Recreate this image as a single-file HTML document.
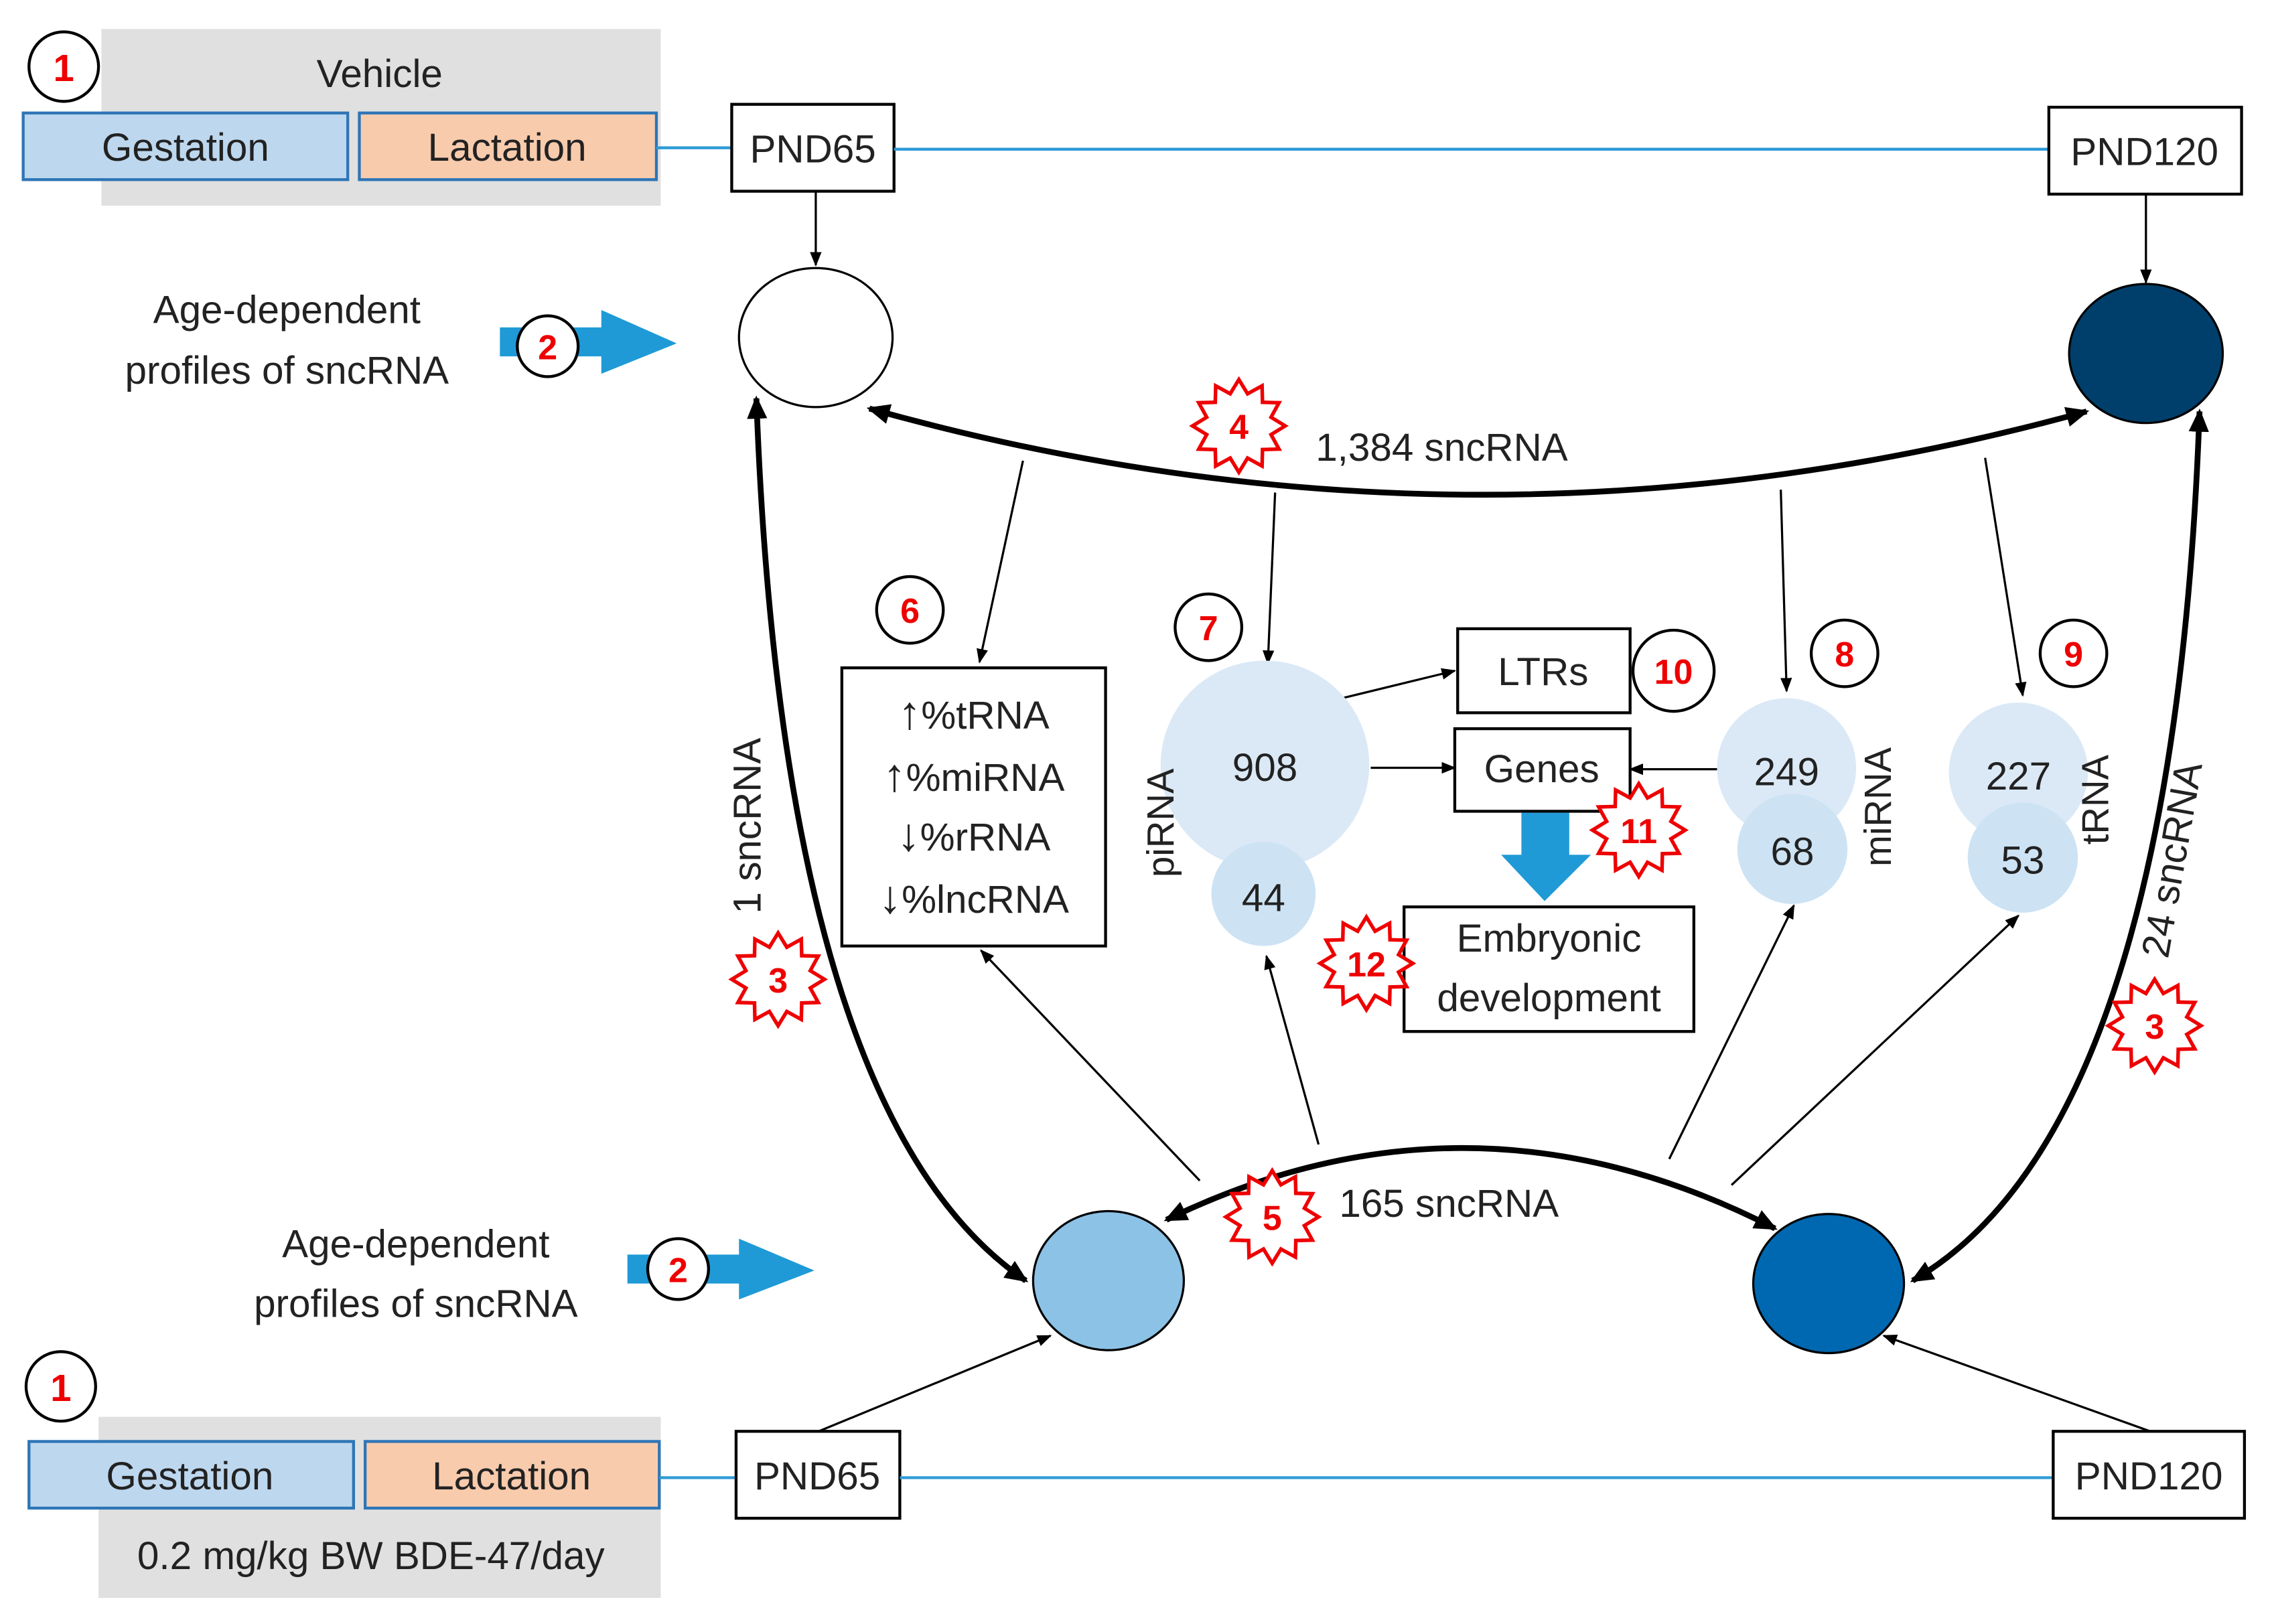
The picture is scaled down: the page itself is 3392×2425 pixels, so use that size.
<!DOCTYPE html>
<html><head><meta charset="utf-8"><style>
html,body{margin:0;padding:0;background:#fff;}
svg{display:block;}
text{font-family:"Liberation Sans",sans-serif;fill:#222;}
.n{fill:#e00;font-weight:bold;}
</style></head><body>
<svg width="3392" height="2425" viewBox="0 0 1568 1121" preserveAspectRatio="none" xmlns="http://www.w3.org/2000/svg">
<defs>
<marker id="a" markerWidth="10" markerHeight="10" refX="9" refY="5" orient="auto" markerUnits="userSpaceOnUse"><path d="M0,1 L10,5 L0,9 z" fill="#000"/></marker>
<marker id="b" markerWidth="16" markerHeight="14" refX="14" refY="7" orient="auto-start-reverse" markerUnits="userSpaceOnUse"><path d="M0,0 L16,7 L0,14 z" fill="#000"/></marker>
<polygon id="st" points="32,0 22.2,6 27.7,16 16.3,16.3 16,27.7 6,22.2 0,32 -6,22.2 -16,27.7 -16.3,16.3 -27.7,16 -22.2,6 -32,0 -22.2,-6 -27.7,-16 -16.3,-16.3 -16,-27.7 -6,-22.2 0,-32 6,-22.2 16,-27.7 16.3,-16.3 27.7,-16 22.2,-6" fill="#fff" stroke="#e00" stroke-width="2.5"/>
</defs>
<rect x="70" y="20" width="386" height="122" fill="#e0e0e0"/>
<text x="262" y="60" font-size="27" text-anchor="middle">Vehicle</text>
<rect x="16" y="78" width="224" height="46" fill="#bdd7ee" stroke="#2e75b6" stroke-width="2"/>
<text x="128" y="111" font-size="27" text-anchor="middle">Gestation</text>
<rect x="248" y="78" width="205" height="46" fill="#f8cbad" stroke="#2e75b6" stroke-width="2"/>
<text x="350" y="111" font-size="27" text-anchor="middle">Lactation</text>
<line x1="453" y1="102" x2="505" y2="102" stroke="#2e9ad6" stroke-width="2"/>
<rect x="505" y="72" width="112" height="60" fill="#fff" stroke="#000" stroke-width="2"/>
<text x="561" y="112" font-size="27" text-anchor="middle">PND65</text>
<line x1="617" y1="103" x2="1414" y2="103" stroke="#2e9ad6" stroke-width="2"/>
<rect x="1414" y="74" width="133" height="60" fill="#fff" stroke="#000" stroke-width="2"/>
<text x="1480" y="114" font-size="27" text-anchor="middle">PND120</text>
<circle cx="44" cy="46" r="24" fill="#fff" stroke="#000" stroke-width="2"/><text class="n" x="44" y="56" font-size="26" text-anchor="middle">1</text>
<line x1="563" y1="132" x2="563" y2="183" stroke="#000" stroke-width="1.5" marker-end="url(#a)"/>
<line x1="1481" y1="134" x2="1481" y2="195" stroke="#000" stroke-width="1.5" marker-end="url(#a)"/>
<ellipse cx="563" cy="233" rx="53" ry="48" fill="#fff" stroke="#000" stroke-width="1.5"/>
<ellipse cx="1481" cy="244" rx="53" ry="48" fill="#003f6b" stroke="#000" stroke-width="1.5"/>
<text x="198" y="223" font-size="27" text-anchor="middle">Age-dependent</text>
<text x="198" y="265" font-size="27" text-anchor="middle">profiles of sncRNA</text>
<path d="M345,226 L415,226 L415,214 L467,237 L415,258 L415,246 L345,246 z" fill="#1f9ad6"/>
<circle cx="378" cy="239" r="21" fill="#fff" stroke="#000" stroke-width="2"/><text class="n" x="378" y="248" font-size="24" text-anchor="middle">2</text>
<rect x="68" y="978" width="388" height="125" fill="#e0e0e0"/>
<rect x="20" y="995" width="224" height="46" fill="#bdd7ee" stroke="#2e75b6" stroke-width="2"/>
<text x="131" y="1028" font-size="27" text-anchor="middle">Gestation</text>
<rect x="252" y="995" width="203" height="46" fill="#f8cbad" stroke="#2e75b6" stroke-width="2"/>
<text x="353" y="1028" font-size="27" text-anchor="middle">Lactation</text>
<text x="256" y="1083" font-size="27" text-anchor="middle">0.2 mg/kg BW BDE-47/day</text>
<circle cx="42" cy="957" r="24" fill="#fff" stroke="#000" stroke-width="2"/><text class="n" x="42" y="967" font-size="26" text-anchor="middle">1</text>
<line x1="455" y1="1020" x2="508" y2="1020" stroke="#2e9ad6" stroke-width="2"/>
<rect x="508" y="988" width="113" height="60" fill="#fff" stroke="#000" stroke-width="2"/>
<text x="564" y="1028" font-size="27" text-anchor="middle">PND65</text>
<line x1="621" y1="1020" x2="1417" y2="1020" stroke="#2e9ad6" stroke-width="2"/>
<rect x="1417" y="988" width="132" height="60" fill="#fff" stroke="#000" stroke-width="2"/>
<text x="1483" y="1028" font-size="27" text-anchor="middle">PND120</text>
<line x1="565" y1="988" x2="725" y2="922" stroke="#000" stroke-width="1.5" marker-end="url(#a)"/>
<line x1="1484" y1="988" x2="1300" y2="922" stroke="#000" stroke-width="1.5" marker-end="url(#a)"/>
<ellipse cx="765" cy="884" rx="52" ry="48" fill="#8cc2e6" stroke="#000" stroke-width="1.5"/>
<ellipse cx="1262" cy="886" rx="52" ry="48" fill="#0068b0" stroke="#000" stroke-width="1.5"/>
<text x="287" y="868" font-size="27" text-anchor="middle">Age-dependent</text>
<text x="287" y="909" font-size="27" text-anchor="middle">profiles of sncRNA</text>
<path d="M433,866 L510,866 L510,855 L562,877 L510,897 L510,886 L433,886 z" fill="#1f9ad6"/>
<circle cx="468" cy="876" r="21" fill="#fff" stroke="#000" stroke-width="2"/><text class="n" x="468" y="885" font-size="24" text-anchor="middle">2</text>
<path d="M600,282 Q1020,400 1440,284" fill="none" stroke="#000" stroke-width="4" marker-start="url(#b)" marker-end="url(#b)"/>
<text x="995" y="318" font-size="27" text-anchor="middle">1,384 sncRNA</text>
<path d="M805,842 Q1015,740 1225,848" fill="none" stroke="#000" stroke-width="4" marker-start="url(#b)" marker-end="url(#b)"/>
<text x="1000" y="840" font-size="27" text-anchor="middle">165 sncRNA</text>
<path d="M522,275 Q540,770 708,884" fill="none" stroke="#000" stroke-width="4" marker-start="url(#b)" marker-end="url(#b)"/>
<text transform="translate(525,570) rotate(-90)" font-size="27" text-anchor="middle">1 sncRNA</text>
<path d="M1518,284 Q1500,780 1320,884" fill="none" stroke="#000" stroke-width="4" marker-start="url(#b)" marker-end="url(#b)"/>
<text transform="translate(1508,595) rotate(-80)" font-size="27" text-anchor="middle">24 sncRNA</text>
<g stroke="#000" stroke-width="1.5" marker-end="url(#a)">
<line x1="706" y1="318" x2="676" y2="457"/>
<line x1="880" y1="340" x2="875" y2="458"/>
<line x1="1229" y1="338" x2="1233" y2="477"/>
<line x1="1370" y1="316" x2="1396" y2="480"/>
<line x1="828" y1="815" x2="677" y2="656"/>
<line x1="910" y1="790" x2="874" y2="660"/>
<line x1="1152" y1="800" x2="1238" y2="625"/>
<line x1="1195" y1="818" x2="1393" y2="632"/>
<line x1="926" y1="482" x2="1004" y2="463"/>
<line x1="946" y1="530" x2="1004" y2="530"/>
<line x1="1185" y1="531" x2="1125" y2="531"/>
</g>
<rect x="581" y="461" width="182" height="192" fill="#fff" stroke="#000" stroke-width="2"/>
<g font-size="27" text-anchor="middle">
<text x="672" y="503"><tspan font-size="32">↑</tspan>%tRNA</text>
<text x="672" y="546"><tspan font-size="32">↑</tspan>%miRNA</text>
<text x="672" y="587"><tspan font-size="32">↓</tspan>%rRNA</text>
<text x="672" y="630"><tspan font-size="32">↓</tspan>%lncRNA</text>
</g>
<circle cx="628" cy="421" r="23" fill="#fff" stroke="#000" stroke-width="2"/><text class="n" x="628" y="430" font-size="24" text-anchor="middle">6</text>
<circle cx="873" cy="528" r="72" fill="#dbe9f6"/>
<circle cx="872" cy="617" r="36" fill="#cde3f4"/>
<text x="873" y="539" font-size="27" text-anchor="middle">908</text>
<text x="872" y="629" font-size="27" text-anchor="middle">44</text>
<text transform="translate(810,568) rotate(-90)" font-size="26" text-anchor="middle">piRNA</text>
<circle cx="834" cy="433" r="23" fill="#fff" stroke="#000" stroke-width="2"/><text class="n" x="834" y="442" font-size="24" text-anchor="middle">7</text>
<rect x="1006" y="434" width="119" height="58" fill="#fff" stroke="#000" stroke-width="2"/>
<text x="1065" y="473" font-size="27" text-anchor="middle">LTRs</text>
<circle cx="1155" cy="463" r="28" fill="#fff" stroke="#000" stroke-width="2"/><text class="n" x="1155" y="472" font-size="24" text-anchor="middle">10</text>
<rect x="1004" y="503" width="121" height="57" fill="#fff" stroke="#000" stroke-width="2"/>
<text x="1064" y="540" font-size="27" text-anchor="middle">Genes</text>
<path d="M1050,561 L1083,561 L1083,590 L1098,590 L1066,622 L1036,590 L1050,590 z" fill="#1f9ad6"/>
<rect x="969" y="626" width="200" height="86" fill="#fff" stroke="#000" stroke-width="2"/>
<text x="1069" y="657" font-size="27" text-anchor="middle">Embryonic</text>
<text x="1069" y="698" font-size="27" text-anchor="middle">development</text>
<circle cx="1233" cy="530" r="48" fill="#dbe9f6"/>
<circle cx="1237" cy="586" r="38" fill="#cde3f4"/>
<text x="1233" y="542" font-size="27" text-anchor="middle">249</text>
<text x="1237" y="597" font-size="27" text-anchor="middle">68</text>
<text transform="translate(1305,557) rotate(-90)" font-size="26" text-anchor="middle">miRNA</text>
<circle cx="1273" cy="451" r="23" fill="#fff" stroke="#000" stroke-width="2"/><text class="n" x="1273" y="460" font-size="24" text-anchor="middle">8</text>
<circle cx="1393" cy="533" r="48" fill="#dbe9f6"/>
<circle cx="1396" cy="592" r="38" fill="#cde3f4"/>
<text x="1393" y="545" font-size="27" text-anchor="middle">227</text>
<text x="1396" y="603" font-size="27" text-anchor="middle">53</text>
<text transform="translate(1455,552) rotate(-90)" font-size="26" text-anchor="middle">tRNA</text>
<circle cx="1431" cy="451" r="23" fill="#fff" stroke="#000" stroke-width="2"/><text class="n" x="1431" y="460" font-size="24" text-anchor="middle">9</text>
<use href="#st" x="855" y="294"/><text class="n" x="855" y="303" font-size="24" text-anchor="middle">4</text>
<use href="#st" x="878" y="840"/><text class="n" x="878" y="849" font-size="24" text-anchor="middle">5</text>
<use href="#st" x="537" y="676"/><text class="n" x="537" y="685" font-size="24" text-anchor="middle">3</text>
<use href="#st" x="1487" y="708"/><text class="n" x="1487" y="717" font-size="24" text-anchor="middle">3</text>
<use href="#st" x="1131" y="573"/><text class="n" x="1131" y="582" font-size="24" text-anchor="middle">11</text>
<use href="#st" x="943" y="665"/><text class="n" x="943" y="674" font-size="24" text-anchor="middle">12</text>
</svg>
</body></html>
